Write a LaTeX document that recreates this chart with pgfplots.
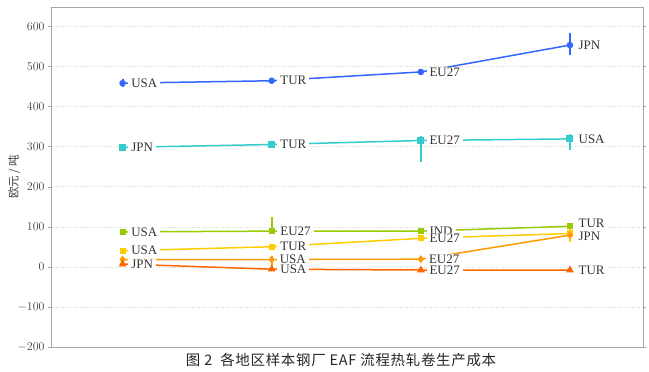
\documentclass[border=0pt]{standalone}
\usepackage{pgfplots}
\pgfplotsset{compat=1.18}
\usepackage{pgfplotstable}
\usepackage{fontspec}
\setmainfont{Liberation Serif}
\newfontfamily\cjk{Noto Sans CJK SC}
\newfontfamily\cjkcap[LetterSpace=5]{Noto Sans CJK SC}

\definecolor{cBlue}{RGB}{51,102,255}
\definecolor{cCyan}{RGB}{51,204,204}
\definecolor{cGreen}{RGB}{153,204,0}
\definecolor{cYellow}{RGB}{255,204,0}
\definecolor{cOrange}{RGB}{255,153,0}
\definecolor{cRed}{RGB}{255,102,0}

\pgfplotstableread{
x y ep em lab dy
0 458 10 10 USA 0
1 464 0 0 TUR 0
2 486 0 0 EU27 0
3 553 30 25 JPN 0
}\tblue
\pgfplotstableread{
x y ep em lab dy
0 298 0 0 JPN 0
1 305 0 0 TUR 0
2 315 12 53 EU27 0
3 319 12 28 USA 0
}\tcyan
\pgfplotstableread{
x y ep em lab dy
0 87 0 0 USA 0
1 89 35 0 EU27 0
2 89 0 0 IND 0
3 101 0 0 TUR 3
}\tgreen
\pgfplotstableread{
x y ep em lab dy
0 40 8 8 USA 0
1 50 0 0 TUR 0
2 71 0 0 EU27 0
3 83 21 21 JPN -3
}\tyellow
\pgfplotstableread{
x y ep em lab dy
0 18 0 0 JPN 0
1 18 9 24 USA 0
2 19 0 0 EU27 0
3 79 0 0 JPN 0
}\torange
\pgfplotstableread{
x y ep em lab dy
0 7 0 0 JPN 0
1 -6 0 0 USA 0
2 -8 0 0 EU27 0
3 -8 0 0 TUR 0
}\tred

\pgfplotsset{
  lbl/.style={nodes near coords, point meta=explicit symbolic,
    visualization depends on=\thisrow{dy}\as\dy,
    every node near coord/.append style={anchor=west, xshift=5bp, yshift=\dy bp, fill=white,
      inner xsep=3bp, inner ysep=1bp, text=black!80,
      font=\fontsize{13}{13}\selectfont}},
  eb/.style={error bars/y dir=both, error bars/y explicit,
    error bars/error mark=none,
    error bars/error bar style={line width=2bp}},
}

\begin{document}
\begin{tikzpicture}
\useasboundingbox (-51bp,-25bp) rectangle (598bp,347bp);
\begin{axis}[
  scale only axis, width=592bp, height=340bp,
  xmin=-0.48, xmax=3.49, ymin=-200, ymax=648,
  xtick=\empty, ytick={-200,-100,...,600},
  ymajorgrids, major grid style={gray!30, dotted},
  axis line style={gray!70, line width=0.9bp},
  tick align=outside, major tick length=3bp, tick style={gray!70},
  yticklabel style={font=\fontsize{12.5}{12.5}\selectfont, text=black!75},
  ylabel={\cjk 欧元 / 吨},
  ylabel style={at={(axis description cs:-0.0625,0.5)}, anchor=center,
    font=\fontsize{11.5}{11.5}\selectfont, text=black!75},
  clip=false,
]
\addplot[cBlue, line width=1.5bp, mark=*, mark size=2.5bp, eb, lbl]
  table[x=x, y=y, y error plus=ep, y error minus=em, meta=lab] {\tblue};
\addplot[cCyan, line width=1.5bp, mark=square*, mark size=2.7bp, eb, lbl]
  table[x=x, y=y, y error plus=ep, y error minus=em, meta=lab] {\tcyan};
\addplot[cGreen, line width=1.5bp, mark=square*, mark size=2.3bp, eb, lbl]
  table[x=x, y=y, y error plus=ep, y error minus=em, meta=lab] {\tgreen};
\addplot[cYellow, line width=1.5bp, mark=square*, mark size=2.3bp, eb, lbl]
  table[x=x, y=y, y error plus=ep, y error minus=em, meta=lab] {\tyellow};
\addplot[cOrange, line width=1.5bp, mark=diamond*, mark size=2.8bp, eb]
  table[x=x, y=y, y error plus=ep, y error minus=em] {\torange};
\addplot[draw=none, mark=none, lbl, forget plot]
  table[x=x, y=y, meta=lab, skip coords between index={0}{1}, skip coords between index={3}{4}] {\torange};
\addplot[cRed, line width=1.5bp, mark=triangle*, mark size=3bp, eb, lbl]
  table[x=x, y=y, y error plus=ep, y error minus=em, meta=lab] {\tred};
\node[font=\cjkcap\fontsize{14.5}{14.5}\selectfont, text=black!85] at (axis description cs:0.49,0) [yshift=-13bp] {图 2\ \ 各地区样本钢厂 EAF 流程热轧卷生产成本};
\end{axis}
\end{tikzpicture}
\end{document}
